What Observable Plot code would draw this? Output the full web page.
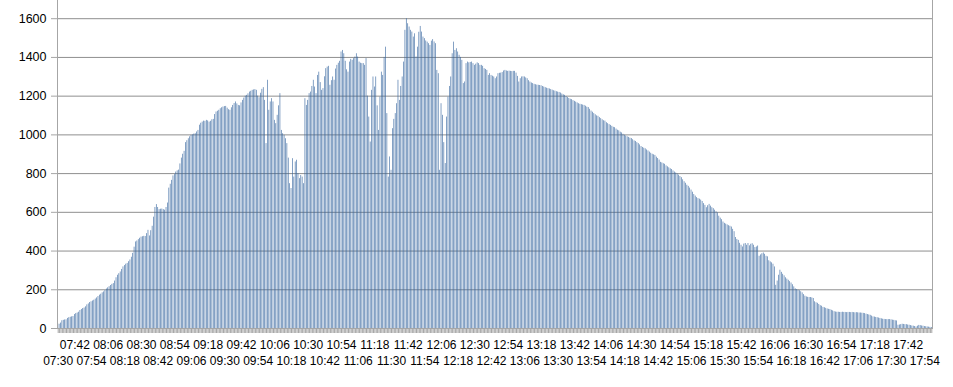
<!DOCTYPE html>
<html><head><meta charset="utf-8">
<script src="https://cdn.jsdelivr.net/npm/d3@7"></script>
<script src="https://cdn.jsdelivr.net/npm/@observablehq/plot@0.6"></script>
<style>body{margin:0;background:#fff;overflow:hidden}</style>
</head><body><div id="chart"></div>
<script>
const startTime = "07:30";
const values = [
25,22,28,40,42,44,45,52,56,58,
60,62,72,77,80,84,93,98,103,106,
112,122,127,134,138,142,146,152,158,165,
172,177,184,189,196,204,210,216,222,228,
232,245,262,275,283,292,305,318,325,332,
336,345,354,368,388,420,447,452,459,466,
472,474,476,475,490,507,478,505,528,575,
625,640,625,614,616,617,614,611,625,648,
725,745,765,788,795,808,814,818,850,880,
900,915,960,970,980,990,998,1000,1004,1006,
1015,1023,1050,1060,1066,1071,
1070,1075,1072,1066,
1070,1078,1080,1105,1118,1122,1127,1135,1140,1144,
1146,1147,1138,1130,1127,1140,1152,1162,1170,1160,
1152,1150,1165,1178,1190,1200,1204,1212,1221,1225,
1230,1232,1234,1230,1200,1192,1215,1235,1244,1178,
955,1282,1127,1170,1187,1170,1075,1058,1101,1150,
1213,1023,1006,998,980,955,880,748,723,877,
782,860,869,800,774,790,782,748,1187,1152,
1178,1213,1221,1250,1282,1247,1213,1307,1324,1270,
1230,1239,1300,1342,1350,1354,1256,1280,1299,1282,
1340,1359,1370,1380,1428,1436,1419,1380,1336,1324,
1376,
1390,1385,1394,1402,1419,1402,1376,1370,1368,
1368,1359,1394,1200,1092,963,1230,1299,1247,1299,
1150,1023,1195,1324,1307,1400,1453,1110,782,886,
817,1032,1080,1110,1161,1282,1178,1250,1299,1376,
1540,1600,1574,1557,1540,1531,1505,1522,1402,1453,
1530,1560,1531,1505,1497,1485,1479,1471,1462,1484,
1492,1480,1471,1333,1316,817,1161,1101,960,852,
1092,1195,1250,1299,1419,1479,1436,1445,1428,1411,
1400,1385,1265,1273,1368,1376,1372,1374,1376,1368,
1359,1365,1372,1368,1359,1359,1354,1342,1338,1333,
1307,1316,1307,1303,1299,1290,
1299,1316,1318,1319,
1322,1330,1333,1330,1328,1329,1328,1327,1328,1328,
1319,1302,1273,1290,1299,1300,1299,1294,1290,1280,
1273,1268,1265,1261,1259,1257,1256,1255,1254,1250,
1247,1244,1241,1239,1237,1234,1231,1228,1226,1223,
1221,1219,1216,1211,1207,1204,1198,1193,1188,1184,
1182,1177,1173,1169,1165,1161,1158,1156,1154,1152,
1148,1143,1141,1132,1123,1117,1110,1104,1098,1096,
1089,1084,1078,1073,1071,1063,1058,1053,1049,1044,
1039,1037,1030,1024,1021,1014,1010,1003,998,994,
990,987,983,981,975,969,966,960,955,
948,
940,935,931,928,922,917,911,905,900,897,
894,885,878,870,858,855,851,848,840,835,
830,825,821,814,808,803,798,792,785,779,
768,758,750,740,734,725,715,704,692,684,
676,671,668,663,656,645,636,624,634,641,
632,624,619,611,603,597,580,570,562,550,
543,539,535,531,528,524,512,500,470,460,
455,440,430,421,436,439,430,439,427,435,
438,430,418,421,426,373,380,386,390,383,
373,370,350,344,339,332,318,223,245,275,
301,290,280,272,
262,255,249,242,235,226,
215,205,201,198,195,190,184,175,167,163,
161,160,160,158,155,138,133,130,124,118,
115,109,107,104,101,99,98,94,91,87,
85,84,84,83,83,84,83,83,82,83,
83,82,83,82,81,82,81,80,80,79,
78,77,74,72,70,68,64,60,59,57,
56,54,52,50,48,47,46,46,46,46,
45,43,42,40,39,17,18,20,22,21,
20,20,18,17,15,13,12,10,8,12,
16,15,13,12,10,9,8,7,6,5
];
const upperTicks = ["07:42","08:06","08:30","08:54","09:18","09:42","10:06","10:30","10:54","11:18","11:42","12:06","12:30","12:54","13:18","13:42","14:06","14:30","14:54","15:18","15:42","16:06","16:30","16:54","17:18","17:42"];
const lowerTicks = ["07:30","07:54","08:18","08:42","09:06","09:30","09:54","10:18","10:42","11:06","11:30","11:54","12:18","12:42","13:06","13:30","13:54","14:18","14:42","15:06","15:30","15:54","16:18","16:42","17:06","17:30","17:54"];
const yTicks = [0,200,400,600,800,1000,1200,1400,1600];

const [h0, m0] = startTime.split(":").map(Number);
const categories = values.map((_, i) => {
  const t = h0 * 60 + m0 + i;
  return String(Math.floor(t / 60)).padStart(2, "0") + ":" + String(t % 60).padStart(2, "0");
});
const data = categories.map((c, i) => ({time: c, value: values[i]}));

const gray = "#a6a6a6";
const chart = Plot.plot({
  width: 953, height: 387,
  marginLeft: 57, marginRight: 21, marginTop: 0, marginBottom: 59,
  style: {fontFamily: "'Liberation Sans', Arial, sans-serif", fontSize: "12px", color: "#000", background: "#fff"},
  x: {type: "band", domain: categories, paddingInner: 0.5, paddingOuter: 0.25, axis: null},
  y: {domain: [0, 1694], axis: null},
  marks: [
    Plot.gridY(yTicks, {stroke: "#8f8f8f", strokeOpacity: 1}),
    Plot.barY(data, {x: "time", y: "value", fill: "#36659e", fillOpacity: 0.88, inset: 0}),
    Plot.frame({anchor: "left", stroke: gray}),
    Plot.frame({anchor: "right", stroke: gray}),
    Plot.frame({anchor: "bottom", stroke: gray}),
    Plot.axisY(yTicks, {tickSize: 6, tickPadding: 5, stroke: gray, fill: "#000", fontSize: 12.5, tickFormat: d => String(d), label: null}),
    Plot.axisX(categories, {tickSize: 5, tickFormat: () => "", stroke: gray, label: null}),
    Plot.axisX(upperTicks, {tickSize: 0, tickPadding: 12, fill: "#000", fontSize: 12, label: null}),
    Plot.axisX(lowerTicks, {tickSize: 0, tickPadding: 28, fill: "#000", fontSize: 12, label: null})
  ]
});
document.getElementById("chart").appendChild(chart);
</script>
</body></html>
